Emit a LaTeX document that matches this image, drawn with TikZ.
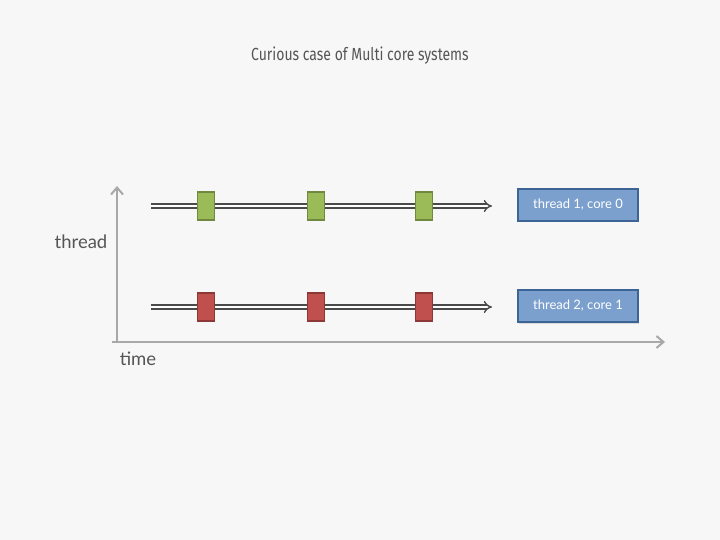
\documentclass[tikz,border=0pt]{standalone}
\usepackage{fontspec}
\setmainfont{Lato}
\newfontfamily\titlefont[FakeStretch=0.8]{Fira Sans}
\usetikzlibrary{arrows.meta,shadows}

\definecolor{bgcol}{HTML}{F7F7F7}
\definecolor{axiscol}{HTML}{A8A8A8}
\definecolor{textcol}{HTML}{555555}
\definecolor{linecol}{HTML}{4A4A4A}
\definecolor{greenfill}{HTML}{9BBB59}
\definecolor{greenline}{HTML}{71893F}
\definecolor{redfill}{HTML}{C0504D}
\definecolor{redline}{HTML}{8C3836}
\definecolor{bluefill}{HTML}{7BA0CD}
\definecolor{blueline}{HTML}{3C6494}

\tikzset{
  axis/.style={draw=axiscol, line width=2pt, -{Straight Barb[length=7pt,width=12pt,line width=2pt]}},
  thr/.style={draw=linecol, line width=1.4pt, double=white, double distance=2.6pt,
    -{Implies[length=4pt]}},
  slice/.style={draw=#1line, fill=#1fill, line width=1.2pt, minimum width=17pt,
    minimum height=28pt, inner sep=0pt},
  core/.style={draw=blueline, fill=bluefill, line width=1.2pt, minimum width=120pt,
    minimum height=32pt, text=white, font=\fontsize{13}{15}\selectfont,
    drop shadow={shadow xshift=1pt, shadow yshift=-1.5pt, opacity=0.25}},
  lbl/.style={text=textcol, font=\fontsize{18.5}{22}\selectfont}
}

\begin{document}
\begin{tikzpicture}[x=1pt, y=-1pt]
   \fill[bgcol] (0,0) rectangle (720,540);
   \useasboundingbox (0,0) rectangle (720,540);

   \node[text=textcol, font=\titlefont\fontsize{17.5}{20}\selectfont] (title) at (360,56) {Curious case of Multi core systems};

   % axes
   \coordinate (origin) at (117,342);
   \coordinate (ytop) at (117,186);
   \coordinate (xend) at (665,342);
   \draw[axis] (117,343) -- (ytop);
   \draw[axis] (112,342) -- (xend);
   \node[lbl] (ylab) at (81,242) {thread};
   \node[lbl] (xlab) at (138,359) {time};

   % thread 1
   \coordinate (t1s) at (151,206);
   \coordinate (t1e) at (492,206);
   \draw[thr] (t1s) -- (t1e);
   \node[slice=green] (g1) at (206,206) {};
   \node[slice=green] (g2) at (316,206) {};
   \node[slice=green] (g3) at (424,206) {};
   \node[core] (c0) at (578,205) {thread 1, core 0};

   % thread 2
   \coordinate (t2s) at (151,307);
   \coordinate (t2e) at (492,307);
   \draw[thr] (t2s) -- (t2e);
   \node[slice=red] (r1) at (206,307) {};
   \node[slice=red] (r2) at (316,307) {};
   \node[slice=red] (r3) at (424,307) {};
   \node[core] (c1) at (578,306) {thread 2, core 1};
\end{tikzpicture}
\end{document}
